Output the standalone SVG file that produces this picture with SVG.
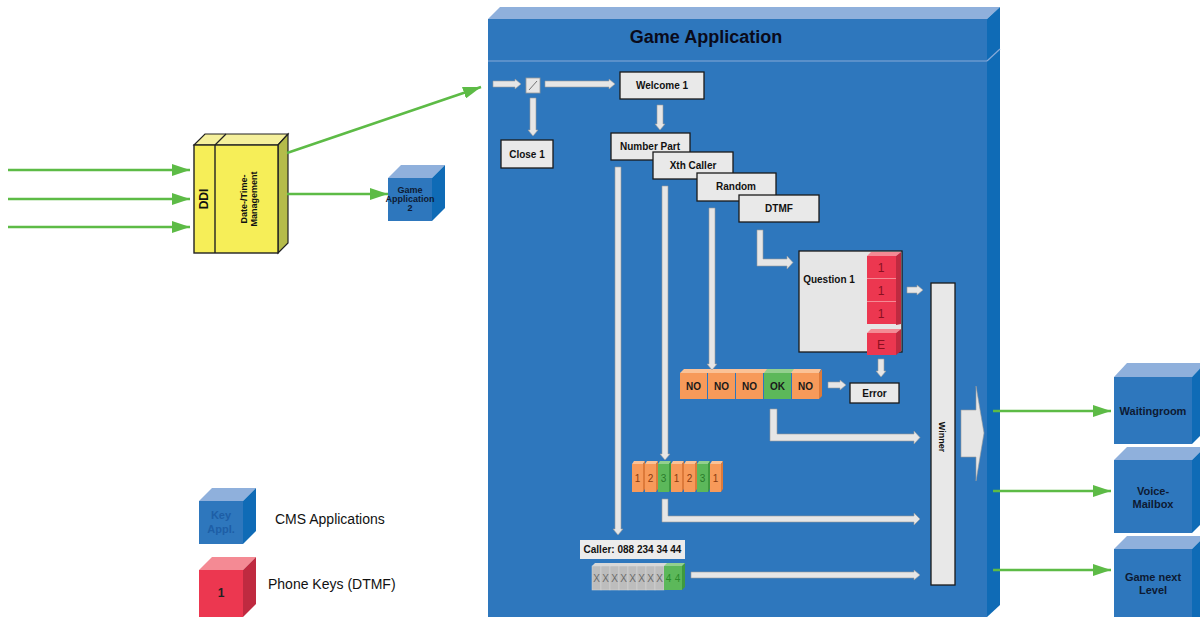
<svg xmlns="http://www.w3.org/2000/svg" width="1200" height="617" viewBox="0 0 1200 617">
<defs>
<marker id="ga" markerWidth="18" markerHeight="12" refX="18" refY="6" orient="auto" markerUnits="userSpaceOnUse"><path d="M0,0 L18,6 L0,12 z" fill="#5dbb46"/></marker>
<style>
text{font-family:"Liberation Sans",Arial,sans-serif;}
.b{font-weight:bold;}
.gl{stroke:#5dbb46;stroke-width:2.5;fill:none;marker-end:url(#ga);}
.bf{fill:#2e77bd;}
.bt{fill:#8fb0dc;}
.bs{fill:#0f6bb6;}
.box{fill:#e9e9e9;stroke:#1a1a1a;stroke-width:1.3;}
.lbl{font-size:10px;font-weight:bold;fill:#111;text-anchor:middle;}
.wa{fill:#e6e6e6;stroke:#9a9a9a;stroke-width:0.6;}
.rf{fill:#ec3750;}.rt{fill:#f48a94;}.rs{fill:#bf2a40;}
.of{fill:#f79a5a;}.ot{fill:#fbc296;}.os{fill:#dd7a3a;}
.gf{fill:#5cb85a;}.gt{fill:#93d08e;}.gs{fill:#3f9a3f;}
.xf{fill:#bdbdbd;stroke:#d8d8d8;stroke-width:0.5;}.xt{fill:#d8d8d8;}
.key{font-size:12px;fill:#8a1020;text-anchor:middle;}
.nt{font-size:10px;font-weight:bold;fill:#1a1a1a;text-anchor:middle;}
.dt{font-size:9px;text-anchor:middle;}
.cube{font-size:11px;font-weight:bold;fill:#0d1a33;text-anchor:middle;}
</style>
</defs>

<!-- Game Application container -->
<g id="game-application">
<polygon class="bt" points="488,19 500,7 1000,7 987,19"/>
<rect class="bf" x="488" y="19" width="499" height="600"/>
<polygon class="bs" points="987,19 1000,7 1000,605 987,617"/>
<line x1="488" y1="61" x2="987" y2="61" stroke="#86a9d8" stroke-width="1.2"/>
<line x1="987" y1="61" x2="1000" y2="49" stroke="#86a9d8" stroke-width="1.2"/>
<text x="706" y="43" font-size="18" class="b" text-anchor="middle" fill="#0a0a1a">Game Application</text>
</g>

<!-- DDI box -->
<g id="ddi">
<polygon points="194,145 205,134 288,134 278,145" fill="#f5f09c" stroke="#222" stroke-width="1.2"/>
<polygon points="278,145 288,134 288,243 278,253" fill="#b5bb4a" stroke="#222" stroke-width="1.2"/>
<rect x="194" y="145" width="84" height="108" fill="#f6ee58" stroke="#222" stroke-width="1.4"/>
<line x1="215" y1="145" x2="215" y2="253" stroke="#222" stroke-width="1.4"/>
<line x1="215" y1="145" x2="226" y2="134" stroke="#222" stroke-width="1.2"/>
<text transform="translate(208,199) rotate(-90)" font-size="12" class="b" text-anchor="middle" fill="#111">DDI</text>
<text transform="translate(248,199) rotate(-90)" font-size="9" class="b" text-anchor="middle" fill="#111"><tspan x="0" y="-1">Date-/Time-</tspan><tspan x="0" y="9">Management</tspan></text>
</g>

<!-- Game Application 2 -->
<g id="game-app-2">
<polygon class="bt" points="388,178 401,165 445,165 432,178"/>
<polygon class="bs" points="432,178 445,165 445,208 432,221"/>
<rect class="bf" x="388" y="178" width="44" height="43"/>
<text class="dt b" fill="#0d1a33" font-size="8"><tspan x="410" y="193">Game</tspan><tspan x="410" y="202">Application</tspan><tspan x="410" y="211">2</tspan></text>
</g>

<!-- Legend -->
<g id="legend-cms">
<polygon class="bt" points="199,501 212,488 256,488 243,501"/>
<polygon class="bs" points="243,501 256,488 256,531 243,544"/>
<rect class="bf" x="199" y="501" width="44" height="43"/>
<text font-size="11" class="b" fill="#1d5ea6" text-anchor="middle"><tspan x="221" y="519">Key</tspan><tspan x="221" y="533">Appl.</tspan></text>
<text x="275" y="524" font-size="14" fill="#111">CMS Applications</text>
</g>
<g id="legend-keys">
<polygon class="rt" points="199,570 212,557 256,557 243,570"/>
<polygon class="rs" points="243,570 256,557 256,604 243,617"/>
<rect class="rf" x="199" y="570" width="44" height="47"/>
<text x="221" y="597" font-size="12" class="b" fill="#222" text-anchor="middle">1</text>
<text x="268" y="589" font-size="14" fill="#111">Phone Keys (DTMF)</text>
</g>

<!-- Right cubes -->
<g id="waitingroom">
<polygon class="bt" points="1114,377 1127,363 1205,363 1192,377"/>
<polygon class="bs" points="1192,377 1205,363 1205,431 1192,444"/>
<rect class="bf" x="1114" y="377" width="78" height="67"/>
<text class="cube" x="1153" y="415">Waitingroom</text>
</g>
<g id="voice-mailbox">
<polygon class="bt" points="1114,460 1127,447 1205,447 1192,460"/>
<polygon class="bs" points="1192,460 1205,447 1205,520 1192,533"/>
<rect class="bf" x="1114" y="460" width="78" height="73"/>
<text class="cube"><tspan x="1153" y="495">Voice-</tspan><tspan x="1153" y="508">Mailbox</tspan></text>
</g>
<g id="game-next-level">
<polygon class="bt" points="1114,549 1127,536 1205,536 1192,549"/>
<polygon class="bs" points="1192,549 1205,536 1205,617 1192,617"/>
<rect class="bf" x="1114" y="549" width="78" height="70"/>
<text class="cube"><tspan x="1153" y="581">Game next</tspan><tspan x="1153" y="594">Level</tspan></text>
</g>

<!-- Inner nodes -->
<g id="switch">
<rect x="526" y="78" width="14" height="15" fill="#e6e6e6" stroke="#999" stroke-width="0.8"/>
<line x1="529" y1="90" x2="537" y2="81" stroke="#555" stroke-width="0.8"/>
</g>
<g id="welcome-1"><rect class="box" x="620" y="72" width="84" height="27"/><text class="lbl" x="662" y="89">Welcome 1</text></g>
<g id="close-1"><rect class="box" x="501" y="140" width="52" height="28"/><text class="lbl" x="527" y="158">Close 1</text></g>
<g id="number-part"><rect class="box" x="611" y="133" width="79" height="27"/><text class="lbl" x="650" y="150">Number Part</text></g>
<g id="xth-caller"><rect class="box" x="653" y="152" width="80" height="27"/><text class="lbl" x="693" y="169">Xth Caller</text></g>
<g id="random"><rect class="box" x="697" y="173" width="79" height="28"/><text class="lbl" x="736" y="190">Random</text></g>
<g id="dtmf"><rect class="box" x="739" y="195" width="80" height="27"/><text class="lbl" x="779" y="212">DTMF</text></g>

<g id="question-1">
<rect x="799" y="251" width="103" height="101" fill="#e6e6e6" stroke="#1a1a1a" stroke-width="1.3"/>
<text class="lbl" x="829" y="283">Question 1</text>
<polygon class="rt" points="867,256 871,252 901,252 896,256"/>
<polygon class="rs" points="896,256 901,252 901,324 896,325"/>
<rect class="rf" x="867" y="256" width="29" height="22"/>
<rect class="rf" x="867" y="279" width="29" height="22"/>
<rect class="rf" x="867" y="302" width="29" height="22"/>
<line x1="867" y1="278.5" x2="896" y2="278.5" stroke="#f48a94" stroke-width="1"/>
<line x1="867" y1="301.5" x2="896" y2="301.5" stroke="#f48a94" stroke-width="1"/>
<text class="key" x="881" y="272">1</text>
<text class="key" x="881" y="295">1</text>
<text class="key" x="881" y="318">1</text>
<polygon class="rt" points="867,333 871,329 901,329 896,333"/>
<polygon class="rs" points="896,333 901,329 901,351 896,355"/>
<rect class="rf" x="867" y="333" width="29" height="22"/>
<text class="key" x="881" y="349">E</text>
</g>

<g id="error"><rect class="box" x="850" y="383" width="49" height="20"/><text class="lbl" x="874.5" y="397">Error</text></g>

<g id="answers">
<polygon class="ot" points="680,373 684,369 821,369 819,373"/>
<polygon class="os" points="819,373 822,369 822,396 819,399"/>
<rect class="of" x="680" y="373" width="27" height="26"/>
<rect class="of" x="708" y="373" width="27" height="26"/>
<rect class="of" x="736" y="373" width="27" height="26"/>
<polygon class="gt" points="764,373 767,369 794,369 791,373"/>
<rect class="gf" x="764" y="373" width="27" height="26"/>
<rect class="of" x="792" y="373" width="27" height="26"/>
<text class="nt" x="693.5" y="390">NO</text>
<text class="nt" x="721.5" y="390">NO</text>
<text class="nt" x="749.5" y="390">NO</text>
<text class="nt" x="777.5" y="390">OK</text>
<text class="nt" x="805.5" y="390">NO</text>
</g>

<g id="digits">
<g class="of"><rect x="632" y="464" width="11" height="28"/><rect x="645" y="464" width="11" height="28"/><rect x="671" y="464" width="11" height="28"/><rect x="684" y="464" width="11" height="28"/><rect x="710" y="464" width="11" height="28"/></g>
<g class="gf"><rect x="658" y="464" width="11" height="28"/><rect x="697" y="464" width="11" height="28"/></g>
<g class="ot"><polygon points="632,464 634,461 645,461 643,464"/><polygon points="645,464 647,461 658,461 656,464"/><polygon points="671,464 673,461 684,461 682,464"/><polygon points="684,464 686,461 697,461 695,464"/><polygon points="710,464 712,461 723,461 721,464"/></g>
<g class="gt"><polygon points="658,464 660,461 671,461 669,464"/><polygon points="697,464 699,461 710,461 708,464"/></g>
<g class="os"><polygon points="643,464 645,461 645,489 643,492"/><polygon points="656,464 658,461 658,489 656,492"/><polygon points="682,464 684,461 684,489 682,492"/><polygon points="695,464 697,461 697,489 695,492"/><polygon points="721,464 723,461 723,489 721,492"/></g>
<g class="gs"><polygon points="669,464 671,461 671,489 669,492"/><polygon points="708,464 710,461 710,489 708,492"/></g>
<g font-size="10" text-anchor="middle" fill="#8a3a10"><text x="637.5" y="482">1</text><text x="650.5" y="482">2</text><text x="676.5" y="482">1</text><text x="689.5" y="482">2</text><text x="715.5" y="482">1</text></g>
<g font-size="10" text-anchor="middle" fill="#2a7a2a"><text x="663.5" y="482">3</text><text x="702.5" y="482">3</text></g>
</g>

<g id="caller">
<rect x="580" y="540" width="105" height="19" fill="#ececec"/>
<text class="lbl" x="632.5" y="553">Caller: 088 234 34 44</text>
<polygon class="xt" points="592,566 595,563 685,563 682,566"/>
<rect class="xf" x="592" y="566" width="9" height="24"/><rect class="xf" x="601" y="566" width="9" height="24"/><rect class="xf" x="610" y="566" width="9" height="24"/><rect class="xf" x="619" y="566" width="9" height="24"/><rect class="xf" x="628" y="566" width="9" height="24"/><rect class="xf" x="637" y="566" width="9" height="24"/><rect class="xf" x="646" y="566" width="9" height="24"/><rect class="xf" x="655" y="566" width="9" height="24"/>
<polygon class="gt" points="664,566 667,563 685,563 682,566"/>
<rect class="gf" x="664" y="566" width="9" height="24"/><rect class="gf" x="673" y="566" width="9" height="24"/>
<polygon class="gs" points="682,566 685,563 685,587 682,590"/>
<g font-size="10" text-anchor="middle" fill="#6a6a6a"><text x="596.5" y="582">X</text><text x="605.5" y="582">X</text><text x="614.5" y="582">X</text><text x="623.5" y="582">X</text><text x="632.5" y="582">X</text><text x="641.5" y="582">X</text><text x="650.5" y="582">X</text><text x="659.5" y="582">X</text></g>
<g font-size="10" text-anchor="middle" fill="#2a8a2a"><text x="668.5" y="582">4</text><text x="677.5" y="582">4</text></g>
</g>

<g id="winner">
<rect x="931" y="283" width="24" height="302" fill="#e8e8e8" stroke="#1a1a1a" stroke-width="1.3"/>
<text transform="translate(939,437) rotate(90)" font-size="9" class="b" text-anchor="middle" fill="#111">Winner</text>
</g>

<!-- Connectors -->
<g id="connectors">
<line class="gl" x1="8" y1="170" x2="190" y2="170"/>
<line class="gl" x1="8" y1="199" x2="190" y2="199"/>
<line class="gl" x1="8" y1="227" x2="190" y2="227"/>
<line class="gl" x1="287" y1="153" x2="481" y2="87"/>
<line class="gl" x1="287" y1="194" x2="388" y2="194"/>
<line class="gl" x1="993" y1="411" x2="1111" y2="411"/>
<line class="gl" x1="993" y1="491" x2="1111" y2="491"/>
<line class="gl" x1="993" y1="570" x2="1111" y2="570"/>

<polygon class="wa" points="493,81 515,81 515,79 521,84 515,89 515,87 493,87"/>
<polygon class="wa" points="545,81 609,81 609,79 615,84 609,89 609,87 545,87"/>
<polygon class="wa" points="530,98 536,98 536,130 538,130 533,136 528,130 530,130"/>
<polygon class="wa" points="657,105 663,105 663,124 665,124 660,130 655,124 657,124"/>
<polygon class="wa" points="615,167 621,167 621,529 623,529 618,535 613,529 615,529"/>
<polygon class="wa" points="662,186 668,186 668,454 670,454 665,460 660,454 662,454"/>
<polygon class="wa" points="709,208 715,208 715,364 717,364 712,370 707,364 709,364"/>
<polygon class="wa" points="757,230 763,230 763,259 787,259 787,256 793,262.5 787,269 787,266 757,266"/>
<polygon class="wa" points="907,287 917,287 917,285 923,290 917,295 917,293 907,293"/>
<polygon class="wa" points="878,359 884,359 884,371 886,371 881,377 876,371 878,371"/>
<polygon class="wa" points="828,382 840,382 840,380 846,385 840,390 840,388 828,388"/>
<polygon class="wa" points="770,409 777,409 777,434 914,434 914,431 920,437.5 914,444 914,441 770,441"/>
<polygon class="wa" points="662,499 668,499 668,516 914,516 914,513 920,519 914,525 914,522 662,522"/>
<polygon class="wa" points="691,572 914,572 914,570 920,575 914,580 914,578 691,578"/>
<polygon class="wa" points="961,410 976,410 976,386 984,433 976,481 976,457 961,457"/>
</g>
</svg>
